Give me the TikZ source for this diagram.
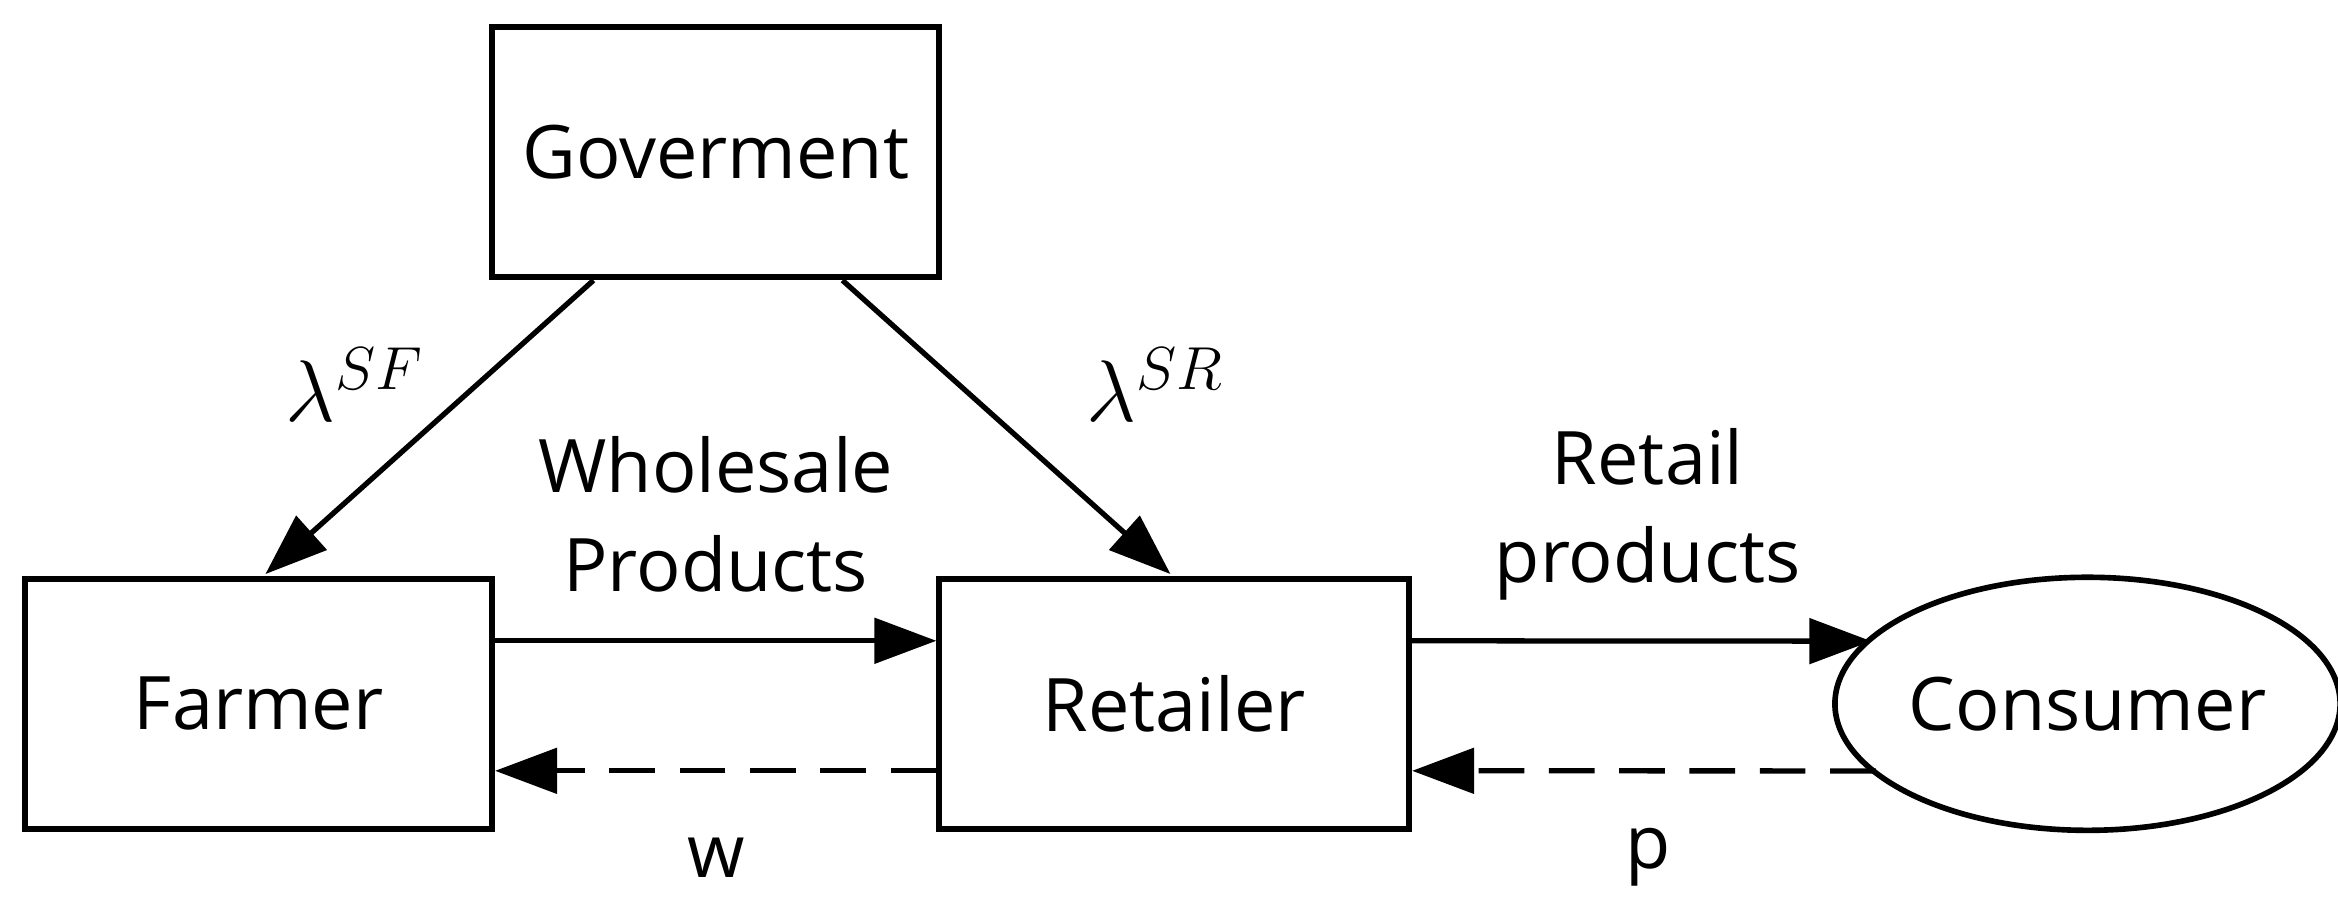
\documentclass[tikz,border=0pt]{standalone}
\usepackage{fontspec}
\setmainfont{Open Sans}
\usetikzlibrary{arrows.meta,shapes.geometric}
\begin{document}
\begin{tikzpicture}[x=0.01491cm,y=-0.01491cm,
  box/.style={draw,line width=1.6pt,inner sep=0pt,font=\fontsize{21}{26}\selectfont},
  arr/.style={line width=1.5pt,-{Triangle[length=0.62cm,width=0.45cm]}},
  dsh/.style={arr,dash pattern=on 13pt off 7pt},
  lab/.style={font=\fontsize{21}{28}\selectfont,align=center}]
\useasboundingbox (0,0) rectangle (1568,608);
\node[box,minimum width=4.47cm,minimum height=2.5cm] (g) at (480,102) {Goverment};
\node[box,minimum width=4.67cm,minimum height=2.5cm] (f) at (173.5,472) {Farmer};
\node[box,minimum width=4.70cm,minimum height=2.5cm] (r) at (787.5,472) {Retailer};
\node[box,ellipse,minimum width=4.71cm,minimum height=2.53cm] (c) at (1400,472) {Consumer};
\coordinate (g1) at (398,188); \coordinate (g2) at (565,188);
\coordinate (f1) at (178,385); \coordinate (r1) at (785,385);
\coordinate (cin) at (1255,430); \coordinate (ce) at (1258,517);
\draw[arr] (g1) -- (f1);
\draw[arr] (g2) -- (r1);
\draw[arr] ([yshift=0.63cm]f.east) -- ([yshift=0.63cm]r.west);
\draw[dsh] ([yshift=-0.67cm]r.west) -- ([yshift=-0.67cm]f.east);
\draw[arr] ([yshift=0.63cm]r.east) -- (cin);
\draw[dsh] (ce) -- ([yshift=-0.67cm]r.east);
\node[lab] (l1) at (238,258) {\fontsize{25}{30}\selectfont$\lambda^{SF}$};
\node[lab] (l2) at (775,258) {\fontsize{25}{30}\selectfont$\lambda^{SR}$};
\node[lab] (t1) at (480,345) {Wholesale\\Products};
\node[lab] (t2) at (1105,345) {Retail\\products};
\node[lab] (t3) at (480,575) {w};
\node[lab] (t4) at (1105,575) {p};
\end{tikzpicture}
\end{document}
